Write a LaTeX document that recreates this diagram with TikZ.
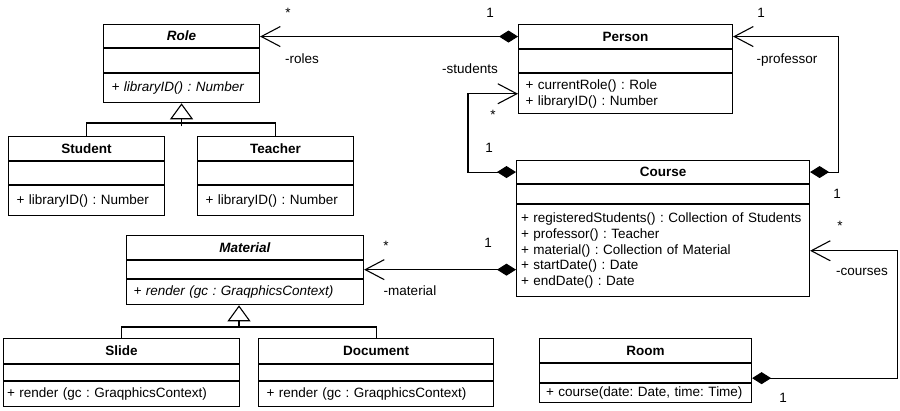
\documentclass[tikz,border=0pt]{standalone}
\usepackage{fontspec}
\setmainfont{Liberation Sans}
\frenchspacing
\usetikzlibrary{arrows.meta,calc}
\begin{document}
\begin{tikzpicture}[x=1pt,y=-1pt,
  every node/.style={font=\fontsize{13.5}{15.7}\selectfont},
  hdr/.style={draw, line width=1.1pt, inner sep=0pt, anchor=north west, font=\fontsize{13.5}{15.7}\selectfont\bfseries},
  box/.style={draw, line width=1.1pt, inner sep=0pt, anchor=north},
  mth/.style={draw, line width=1.1pt, inner ysep=0pt, align=left, anchor=north},
  lbl/.style={anchor=base, inner sep=0pt},
  comp/.style={line width=1.1pt, {Diamond[length=19pt,width=12pt]}-{Straight Barb[length=19pt,width=20pt]}},
  gen/.style={line width=1.1pt, -{Triangle[open,length=16pt,width=23pt,fill=white]}},
  link/.style={line width=1.1pt}
]
\useasboundingbox (0,0) rectangle (900,410);

% Role
\node[hdr, minimum width=156pt, minimum height=23pt] (roleH) at (103,24) {\textit{Role}};
\node[box, minimum width=156pt, minimum height=24pt] (roleE) at (roleH.south) {};
\node[mth, inner xsep=8pt, text width=140pt, minimum height=29pt] (roleM) at (roleE.south) {\textit{+ libraryID() : Number}};

% Student
\node[hdr, minimum width=156pt, minimum height=24pt] (studentH) at (8,136) {Student};
\node[box, minimum width=156pt, minimum height=23pt] (studentE) at (studentH.south) {};
\node[mth, inner xsep=8pt, text width=140pt, minimum height=30pt] (studentM) at (studentE.south) {+ libraryID() : Number};

% Teacher
\node[hdr, minimum width=156pt, minimum height=24pt] (teacherH) at (197,136) {Teacher};
\node[box, minimum width=156pt, minimum height=23pt] (teacherE) at (teacherH.south) {};
\node[mth, inner xsep=8pt, text width=140pt, minimum height=30pt] (teacherM) at (teacherE.south) {+ libraryID() : Number};

% Person
\node[hdr, minimum width=214pt, minimum height=24pt] (personH) at (518,24) {Person};
\node[box, minimum width=214pt, minimum height=23pt] (personE) at (personH.south) {};
\node[mth, inner xsep=7pt, text width=200pt, minimum height=40pt] (personM) at (personE.south) {+ currentRole() : Role\\+ libraryID() : Number};

% Course
\node[hdr, minimum width=293pt, minimum height=23pt] (courseH) at (516,160) {Course};
\node[box, minimum width=293pt, minimum height=19pt] (courseE) at (courseH.south) {};
\node[mth, inner xsep=4.5pt, text width=284pt, minimum height=92pt] (courseM) at (courseE.south) {+ registeredStudents() : Collection of Students\\+ professor() : Teacher\\+ material() : Collection of Material\\+ startDate() : Date\\+ endDate() : Date};

% Material
\node[hdr, minimum width=237pt, minimum height=24pt] (materialH) at (126,235) {\textit{Material}};
\node[box, minimum width=237pt, minimum height=18pt] (materialE) at (materialH.south) {};
\node[mth, inner xsep=7pt, text width=223pt, minimum height=25pt] (materialM) at (materialE.south) {\textit{+ render (gc : GraqphicsContext)}};

% Slide
\node[hdr, minimum width=236pt, minimum height=25pt] (slideH) at (3,338) {Slide};
\node[box, minimum width=236pt, minimum height=16pt] (slideE) at (slideH.south) {};
\node[mth, inner xsep=3.5pt, text width=229pt, minimum height=25pt] (slideM) at (slideE.south) {+ render (gc : GraqphicsContext)};

% Document
\node[hdr, minimum width=235pt, minimum height=25pt] (documentH) at (258,338) {Document};
\node[box, minimum width=235pt, minimum height=16pt] (documentE) at (documentH.south) {};
\node[mth, inner xsep=8pt, text width=219pt, minimum height=25pt] (documentM) at (documentE.south) {+ render (gc : GraqphicsContext)};

% Room
\node[hdr, minimum width=212pt, minimum height=24pt] (roomH) at (539,338) {Room};
\node[box, minimum width=212pt, minimum height=19pt] (roomE) at (roomH.south) {};
\node[mth, inner xsep=6.5pt, text width=199pt, minimum height=19pt] (roomM) at (roomE.south) {+ course(date: Date, time: Time)};

% Generalizations
\draw[link] (studentH.north) -- ++(0,-13) -| (teacherH.north);
\draw[gen] ($(roleM.south)+(0,23)$) -- (roleM.south);
\draw[link] (slideH.north) -- ++(0,-11) -| (documentH.north);
\coordinate (mj) at (239,327);
\draw[gen] (mj) -- (mj |- materialM.south);

% Compositions
\draw[comp] (personH.west) -- (personH.west -| roleH.east);
\draw[comp] (courseH.west) -- ++(-48,0) |- (personM.west);
\draw[comp] (courseH.east) -- ++(28,0) |- (personH.east);
\draw[comp] (courseM.west |- materialE.east) -- (materialE.east);
\draw[comp] ([yshift=-5pt]roomE.east) -- ++(145,0) |- (courseM.east);

% Labels
\node[lbl] (l1) at (288,17) {*};
\node[lbl] (l2) at (490,17) {1};
\node[lbl] (l3) at (302,63) {-roles};
\node[lbl] (l4) at (470,73) {-students};
\node[lbl] (l5) at (493,119) {*};
\node[lbl] (l6) at (489,152) {1};
\node[lbl] (l7) at (761,17) {1};
\node[lbl] (l8) at (787,63) {-professor};
\node[lbl] (l9) at (837,198) {1};
\node[lbl] (l10) at (840,230) {*};
\node[lbl] (l11) at (862,275) {-courses};
\node[lbl] (l12) at (783,402) {1};
\node[lbl] (l13) at (386,250) {*};
\node[lbl] (l14) at (488,247) {1};
\node[lbl] (l15) at (410,295) {-material};
\end{tikzpicture}
\end{document}
